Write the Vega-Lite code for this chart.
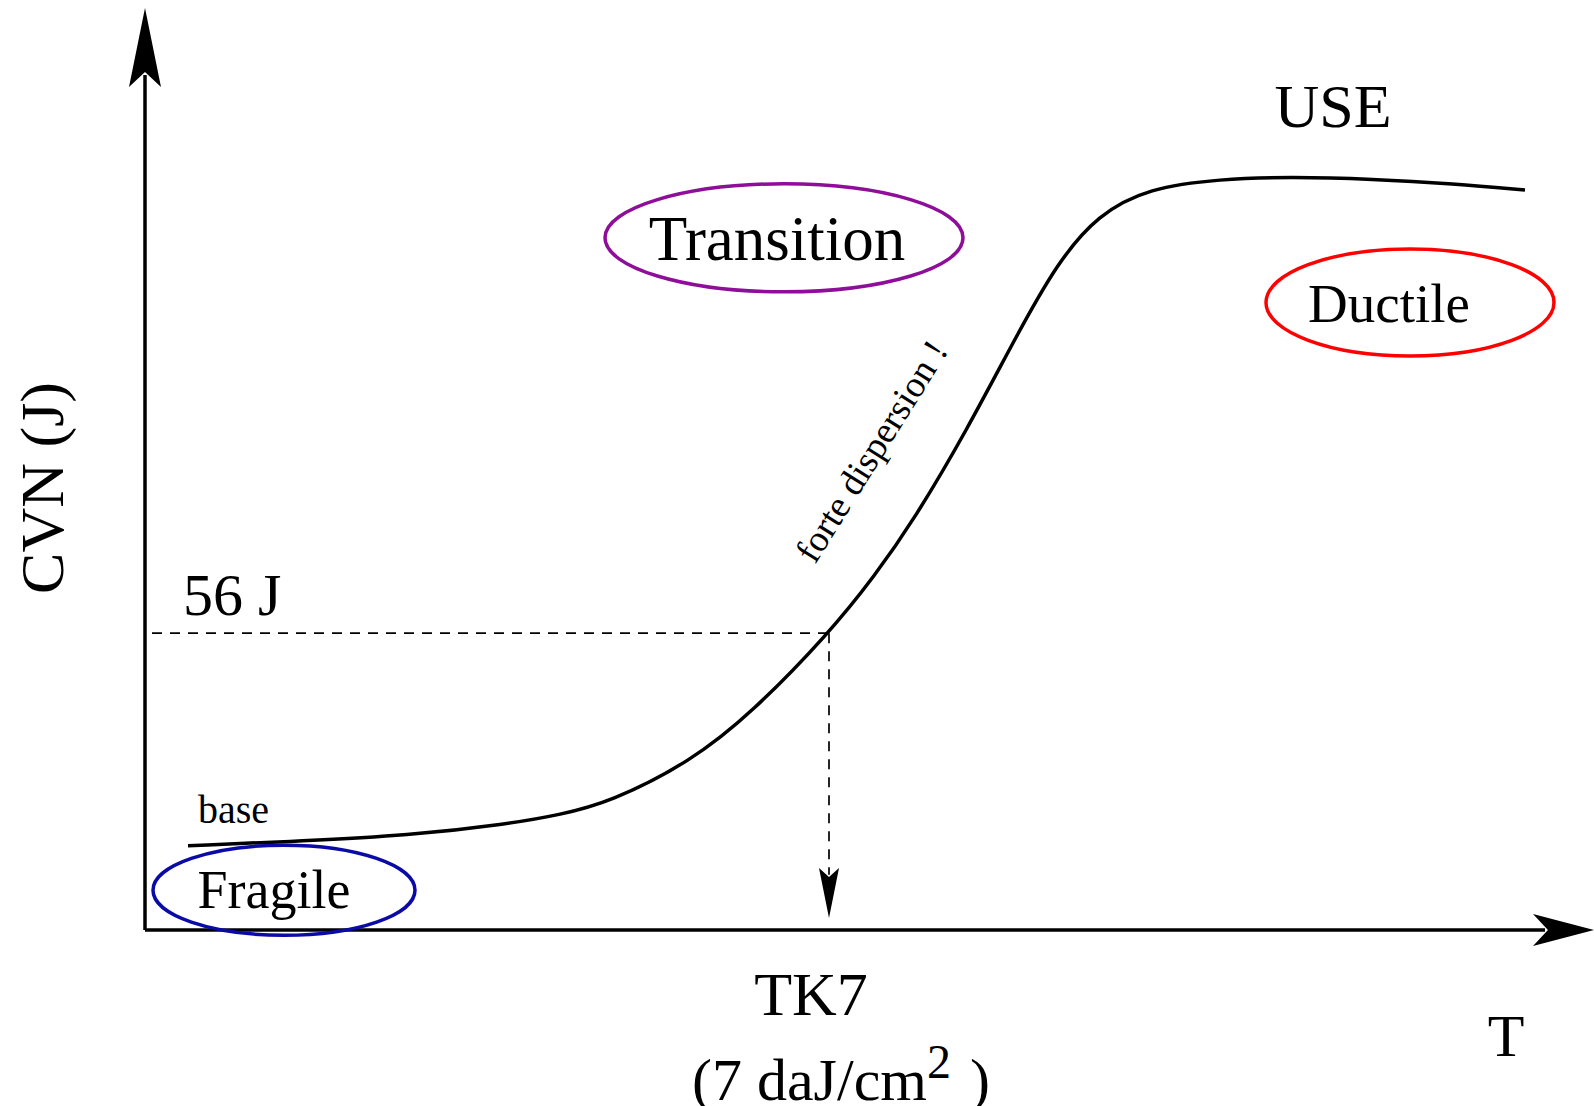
{
  "$schema": "https://vega.github.io/schema/vega-lite/v6.json",
  "width": 1594,
  "height": 1106,
  "autosize": {"type": "none"},
  "padding": 0,
  "background": "white",
  "config": {"view": {"stroke": null}},
  "encoding": {
    "x": {"field": "T", "type": "quantitative", "scale": {"domain": [-14.5, 144.9], "nice": false, "zero": false}, "axis": null},
    "y": {"field": "CVN", "type": "quantitative", "scale": {"domain": [-33.21, 175.47], "nice": false, "zero": false}, "axis": null}
  },
  "layer": [
    {
      "data": {"values": [{"T": 0, "CVN": 0, "CVN2": 161.3}]},
      "mark": {"type": "rule", "color": "black", "strokeWidth": 3.5},
      "encoding": {"y2": {"field": "CVN2"}}
    },
    {
      "data": {"values": [{"T": 0, "T2": 140, "CVN": 0}]},
      "mark": {"type": "rule", "color": "black", "strokeWidth": 3.5},
      "encoding": {"x2": {"field": "T2"}}
    },
    {
      "data": {"values": [{"T": 0.7, "T2": 68.4, "CVN": 56}]},
      "mark": {"type": "rule", "color": "black", "strokeWidth": 1.7, "strokeDash": [10, 8]},
      "encoding": {"x2": {"field": "T2"}}
    },
    {
      "data": {"values": [{"T": 68.4, "CVN": 56, "CVN2": 10.4}]},
      "mark": {"type": "rule", "color": "black", "strokeWidth": 1.7, "strokeDash": [10, 8]},
      "encoding": {"y2": {"field": "CVN2"}}
    },
    {
      "data": {"values": [{"T": 0, "CVN": 166.5}]},
      "mark": {"type": "point", "shape": "M 0 -1 L 0.405 1 L 0 0.62 L -0.405 1 Z", "size": 6241, "filled": true, "color": "black", "opacity": 1, "strokeWidth": 0}
    },
    {
      "data": {"values": [{"T": 141.85, "CVN": 0}]},
      "mark": {"type": "point", "shape": "M 1 0 L -1 0.525 L -0.51 0 L -1 -0.525 Z", "size": 3721, "filled": true, "color": "black", "opacity": 1, "strokeWidth": 0}
    },
    {
      "data": {"values": [{"T": 68.4, "CVN": 7.0}]},
      "mark": {"type": "point", "shape": "M 0 1 L 0.4 -1 L 0 -0.64 L -0.4 -1 Z", "size": 2500, "filled": true, "color": "black", "opacity": 1, "strokeWidth": 0}
    },
    {
      "data": {"values": [
        {"T": 4.3, "CVN": 15.9},
        {"T": 16.0, "CVN": 16.8},
        {"T": 26.2, "CVN": 17.8},
        {"T": 36.3, "CVN": 20.0},
        {"T": 41.4, "CVN": 21.7},
        {"T": 46.5, "CVN": 24.1},
        {"T": 54.6, "CVN": 31.8},
        {"T": 60.7, "CVN": 41.0},
        {"T": 68.4, "CVN": 56.0},
        {"T": 72.9, "CVN": 66.6},
        {"T": 77.0, "CVN": 77.7},
        {"T": 82.1, "CVN": 94.0},
        {"T": 87.2, "CVN": 112.3},
        {"T": 91.2, "CVN": 125.8},
        {"T": 95.3, "CVN": 135.0},
        {"T": 100.4, "CVN": 140.0},
        {"T": 107.5, "CVN": 141.7},
        {"T": 114.6, "CVN": 142.1},
        {"T": 122.7, "CVN": 141.7},
        {"T": 130.9, "CVN": 140.8},
        {"T": 138.0, "CVN": 139.6}
      ]},
      "mark": {"type": "line", "color": "black", "strokeWidth": 3.5, "interpolate": "basis"}
    },
    {
      "data": {"values": [{"T": 63.9, "CVN": 130.6}]},
      "mark": {"type": "point", "shape": "M 1 0 C 1 0.1666 0.5523 0.3017 0 0.3017 C -0.5523 0.3017 -1 0.1666 -1 0 C -1 -0.1666 -0.5523 -0.3017 0 -0.3017 C 0.5523 -0.3017 1 -0.1666 1 0 Z", "size": 128164, "filled": false, "color": "#8E0E99", "strokeWidth": 3.5, "opacity": 1}
    },
    {
      "data": {"values": [{"T": 126.5, "CVN": 118.4}]},
      "mark": {"type": "point", "shape": "M 1 0 C 1 0.2052 0.5523 0.3715 0 0.3715 C -0.5523 0.3715 -1 0.2052 -1 0 C -1 -0.2052 -0.5523 -0.3715 0 -0.3715 C 0.5523 -0.3715 1 -0.2052 1 0 Z", "size": 82944, "filled": false, "color": "#FF0000", "strokeWidth": 3.5, "opacity": 1}
    },
    {
      "data": {"values": [{"T": 13.9, "CVN": 7.5}]},
      "mark": {"type": "point", "shape": "M 1 0 C 1 0.1897 0.5523 0.3435 0 0.3435 C -0.5523 0.3435 -1 0.1897 -1 0 C -1 -0.1897 -0.5523 -0.3435 0 -0.3435 C 0.5523 -0.3435 1 -0.1897 1 0 Z", "size": 68644, "filled": false, "color": "#0A0AA6", "strokeWidth": 3.5, "opacity": 1}
    },
    {
      "data": {"values": [{"T": 118.8, "CVN": 151.5, "label": "USE"}, {"T": 66.6, "CVN": -16.0, "label": "TK7"}]},
      "mark": {"type": "text", "font": "Liberation Serif", "fontSize": 62, "align": "center", "baseline": "alphabetic", "color": "black"},
      "encoding": {"text": {"field": "label"}}
    },
    {
      "data": {"values": [{"T": 136.1, "CVN": -23.8, "label": "T"}]},
      "mark": {"type": "text", "font": "Liberation Serif", "fontSize": 60, "align": "center", "baseline": "alphabetic", "color": "black"},
      "encoding": {"text": {"field": "label"}}
    },
    {
      "data": {"values": [{"T": 63.2, "CVN": 126.4, "label": "Transition"}]},
      "mark": {"type": "text", "font": "Liberation Serif", "fontSize": 63, "align": "center", "baseline": "alphabetic", "color": "black"},
      "encoding": {"text": {"field": "label"}}
    },
    {
      "data": {"values": [{"T": 124.4, "CVN": 114.7, "label": "Ductile"}]},
      "mark": {"type": "text", "font": "Liberation Serif", "fontSize": 55, "align": "center", "baseline": "alphabetic", "color": "black"},
      "encoding": {"text": {"field": "label"}}
    },
    {
      "data": {"values": [{"T": 12.9, "CVN": 4.2, "label": "Fragile"}]},
      "mark": {"type": "text", "font": "Liberation Serif", "fontSize": 54, "align": "center", "baseline": "alphabetic", "color": "black"},
      "encoding": {"text": {"field": "label"}}
    },
    {
      "data": {"values": [{"T": 5.3, "CVN": 20.2, "label": "base"}]},
      "mark": {"type": "text", "font": "Liberation Serif", "fontSize": 40, "align": "left", "baseline": "alphabetic", "color": "black"},
      "encoding": {"text": {"field": "label"}}
    },
    {
      "data": {"values": [{"T": 3.8, "CVN": 59.4, "label": "56 J"}]},
      "mark": {"type": "text", "font": "Liberation Serif", "fontSize": 60, "align": "left", "baseline": "alphabetic", "color": "black"},
      "encoding": {"text": {"field": "label"}}
    },
    {
      "data": {"values": [{"T": 54.7, "CVN": -32.1, "label": "(7 daJ/cm"}, {"T": 82.5, "CVN": -32.1, "label": ")"}]},
      "mark": {"type": "text", "font": "Liberation Serif", "fontSize": 60, "align": "left", "baseline": "alphabetic", "color": "black"},
      "encoding": {"text": {"field": "label"}}
    },
    {
      "data": {"values": [{"T": 78.2, "CVN": -27.9, "label": "2"}]},
      "mark": {"type": "text", "font": "Liberation Serif", "fontSize": 48, "align": "left", "baseline": "alphabetic", "color": "black"},
      "encoding": {"text": {"field": "label"}}
    },
    {
      "data": {"values": [{"T": -8.2, "CVN": 83.4, "label": "CVN (J)"}]},
      "mark": {"type": "text", "font": "Liberation Serif", "fontSize": 62, "align": "center", "baseline": "alphabetic", "angle": 270, "color": "black"},
      "encoding": {"text": {"field": "label"}}
    },
    {
      "data": {"values": [{"T": 73.7, "CVN": 89.1, "label": "forte dispersion !"}]},
      "mark": {"type": "text", "font": "Liberation Serif", "fontSize": 37, "align": "center", "baseline": "alphabetic", "angle": 302, "color": "black"},
      "encoding": {"text": {"field": "label"}}
    }
  ]
}
